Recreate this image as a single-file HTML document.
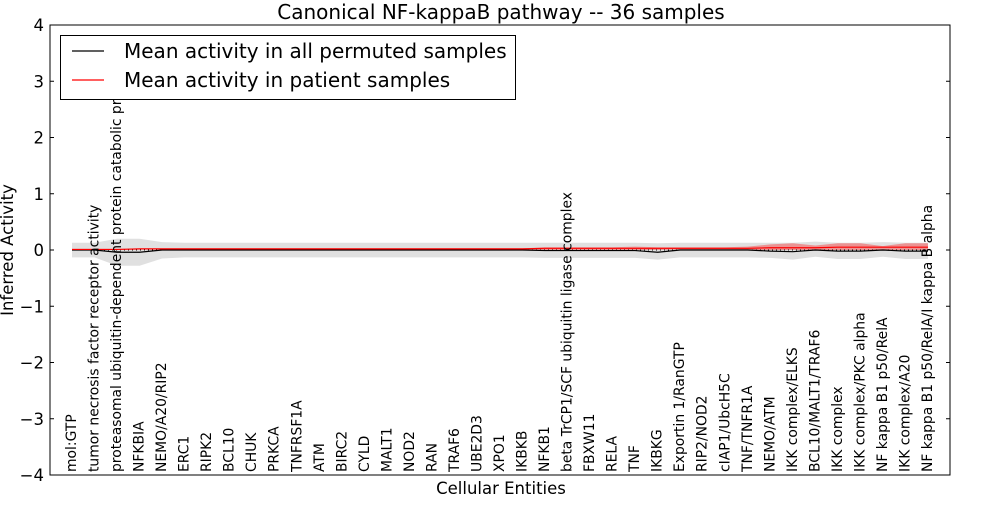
<!DOCTYPE html>
<html><head><meta charset="utf-8"><style>
body{margin:0;background:#fff;}
svg{font-family:"DejaVu Sans","Liberation Sans",sans-serif;}
</style></head><body>
<svg id="chart" width="1000" height="500"></svg>
<script>
const labels=["mol:GTP","tumor necrosis factor receptor activity","proteasomal ubiquitin-dependent protein catabolic pr","NFKBIA","NEMO/A20/RIP2","ERC1","RIPK2","BCL10","CHUK","PRKCA","TNFRSF1A","ATM","BIRC2","CYLD","MALT1","NOD2","RAN","TRAF6","UBE2D3","XPO1","IKBKB","NFKB1","beta TrCP1/SCF ubiquitin ligase complex","FBXW11","RELA","TNF","IKBKG","Exportin 1/RanGTP","RIP2/NOD2","cIAP1/UbcH5C","TNF/TNFR1A","NEMO/ATM","IKK complex/ELKS","BCL10/MALT1/TRAF6","IKK complex","IKK complex/PKC alpha","NF kappa B1 p50/RelA","IKK complex/A20","NF kappa B1 p50/RelA/I kappa B alpha"];
const permMean=[0,0,-0.04,-0.04,0,0,0,0,0,0,0,0,0,0,0,0,0,0,0,0,0,-0.01,-0.01,-0.01,-0.01,-0.01,-0.04,0,0,0,0,-0.02,-0.03,0,-0.02,-0.02,0,-0.02,-0.02];
const permLo=[-0.13,-0.13,-0.28,-0.28,-0.15,-0.13,-0.13,-0.13,-0.13,-0.13,-0.13,-0.13,-0.13,-0.13,-0.13,-0.13,-0.13,-0.13,-0.13,-0.13,-0.13,-0.14,-0.14,-0.14,-0.14,-0.14,-0.17,-0.13,-0.13,-0.13,-0.13,-0.14,-0.17,-0.12,-0.16,-0.16,-0.12,-0.16,-0.16];
const permHi=[0.13,0.13,0.2,0.2,0.14,0.13,0.13,0.13,0.13,0.13,0.13,0.13,0.13,0.13,0.13,0.13,0.13,0.13,0.13,0.13,0.13,0.13,0.13,0.13,0.13,0.13,0.12,0.13,0.13,0.13,0.13,0.13,0.13,0.15,0.13,0.13,0.14,0.13,0.13];
const patMean=[0.01,0.01,0.01,0.02,0.02,0.02,0.02,0.02,0.02,0.02,0.02,0.02,0.02,0.02,0.02,0.02,0.02,0.02,0.02,0.02,0.02,0.03,0.03,0.03,0.03,0.03,0.03,0.03,0.03,0.03,0.03,0.04,0.04,0.04,0.05,0.05,0.05,0.05,0.05];
const patLo=[0,0,0,0.01,0.01,0.01,0.01,0.01,0.01,0.01,0.01,0.01,0.01,0.01,0.01,0.01,0.01,0.01,0.01,0.01,0.01,0,0,0,0,0,0,0.01,0.01,0.01,0,0,0,0,0,0,0,0,0];
const patHi=[0.02,0.02,0.02,0.03,0.03,0.03,0.03,0.03,0.03,0.03,0.03,0.03,0.03,0.03,0.03,0.03,0.03,0.03,0.03,0.03,0.03,0.05,0.05,0.05,0.05,0.06,0.05,0.05,0.05,0.05,0.06,0.1,0.12,0.08,0.12,0.12,0.07,0.12,0.12];
const yTicks=[4,3,2,1,0,-1,-2,-3,-4];
const tickText=["4","3","2","1","0","\u22121","\u22122","\u22123","\u22124"];

const NS="http://www.w3.org/2000/svg";
const svg=document.getElementById('chart');
const L=50,R=950,T=25,B=475;
const n=labels.length;
const x0=72,x1=928;
function xs(i){return x0+(x1-x0)*i/(n-1);}
function ys(v){return T+(4-v)*(B-T)/8;}
function mk(tag,attrs,txt){const e=document.createElementNS(NS,tag);for(const k in attrs)e.setAttribute(k,attrs[k]);if(txt!==undefined)e.textContent=txt;svg.appendChild(e);return e;}
function band(lo,hi){let d="";for(let i=0;i<n;i++)d+=(i?"L":"M")+xs(i)+","+ys(hi[i]);for(let i=n-1;i>=0;i--)d+="L"+xs(i)+","+ys(lo[i]);return d+"Z";}
function line(a){let d="";for(let i=0;i<n;i++)d+=(i?"L":"M")+xs(i)+","+ys(a[i]);return d;}

let e;
e=mk('path',{d:band(permLo,permHi),fill:'#e0e0e0',stroke:'none'});


e=mk('path',{d:band(patLo,patHi),fill:'#ff0000','fill-opacity':'0.35',stroke:'none'});


e=mk('line',{x1:x0,x2:x1,y1:ys(0),y2:ys(0),stroke:'#000','stroke-dasharray':'1,3','stroke-width':1});


e=mk('path',{d:line(permMean),fill:'none',stroke:'#000','stroke-width':1.2});


e=mk('path',{d:line(patMean),fill:'none',stroke:'#ff0000','stroke-width':1.2});



e=mk('rect',{x:L,y:T,width:R-L,height:B-T,fill:'none',stroke:'#000','stroke-width':1});


for(let k=0;k<yTicks.length;k++){
  const y=ys(yTicks[k]);
  mk('line',{x1:L,x2:L+4,y1:y,y2:y,stroke:'#000'});
  mk('line',{x1:R-4,x2:R,y1:y,y2:y,stroke:'#000'});
  e=mk('text',{x:L-6,y:y+6,'text-anchor':'end','font-size':16.5},tickText[k]);
  
  
}
for(let i=0;i<n;i++){
  const x=xs(i)+4;
  e=mk('text',{x:x,y:472,transform:`rotate(-90 ${x} 472)`,'font-size':13.9},labels[i]);
  
  
}
e=mk('text',{x:501,y:19,'text-anchor':'middle','font-size':20},'Canonical NF-kappaB pathway -- 36 samples');


e=mk('text',{x:501,y:494,'text-anchor':'middle','font-size':16.5},'Cellular Entities');


e=mk('text',{x:13,y:250,'text-anchor':'middle','font-size':16.5,transform:'rotate(-90 13 250)'},'Inferred Activity');



e=mk('rect',{x:60.5,y:35.5,width:455,height:64,fill:'#fff',stroke:'#000'});


mk('line',{x1:72,x2:104,y1:51,y2:51,stroke:'#000','stroke-width':1.2});
e=mk('text',{x:124,y:58,'font-size':20},'Mean activity in all permuted samples');


mk('line',{x1:72,x2:104,y1:80,y2:80,stroke:'#ff0000','stroke-width':1.2});
e=mk('text',{x:124,y:87,'font-size':20},'Mean activity in patient samples');


</script>
</body></html>
